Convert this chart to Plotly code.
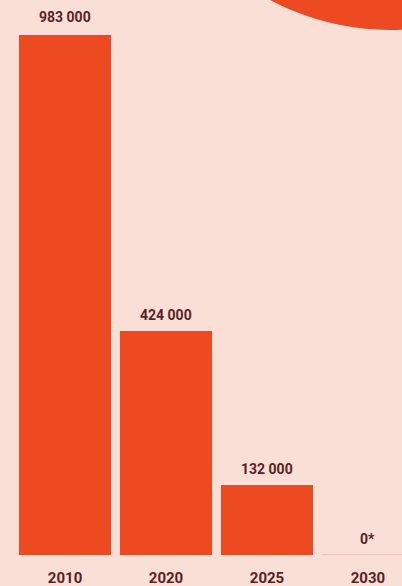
import plotly.graph_objects as go

years = ["2010", "2020", "2025", "2030"]
values = [983000, 424000, 132000, 0]
value_labels = ["983 000", "424 000", "132 000", "0*"]

BG = "#FADFD6"
BAR = "#EE4A22"
TXT = "#5B1E25"
W, H = 402, 586

xs = list(range(len(years)))
fig = go.Figure()
fig.add_trace(go.Bar(
    x=xs[:3], y=values[:3], width=0.91,
    marker=dict(color=BAR, line=dict(width=0)),
    hoverinfo="skip",
))

# zero bar for 2030 drawn as thin baseline
fig.add_shape(type="line", xref="x", yref="y",
              x0=xs[3] - 0.455, x1=xs[3] + 0.455, y0=values[3], y1=values[3],
              line=dict(color="#EDBDAE", width=1.5))

for x, v, t in zip(xs, values, value_labels):
    fig.add_annotation(x=x, y=v, text=t, showarrow=False, yanchor="bottom",
                       yshift=8 if v > 900000 else 6,
                       font=dict(family="Roboto", size=14, color=TXT, weight="bold"))

# decorative circle top right (paper coords)
cx, cy, r = 390, -225, 255
fig.add_shape(type="circle", xref="paper", yref="paper",
              x0=(cx - r) / W, x1=(cx + r) / W,
              y0=1 - (cy + r) / 555, y1=1 - (cy - r) / 555,
              fillcolor=BAR, line=dict(width=0), layer="below")

fig.update_layout(
    width=W, height=H,
    margin=dict(l=0, r=0, t=0, b=31),
    paper_bgcolor=BG, plot_bgcolor=BG,
    showlegend=False,
    bargap=0,
    xaxis=dict(range=[-0.644, 3.337], tickvals=xs, ticktext=years,
               showgrid=False, zeroline=False, showline=False,
               ticks="", ticklabelstandoff=12,
               tickfont=dict(family="Roboto", size=15, color=TXT, weight="bold")),
    yaxis=dict(range=[0, 1049000], visible=False, showgrid=False, zeroline=False),
)

fig.write_html("out.html")
